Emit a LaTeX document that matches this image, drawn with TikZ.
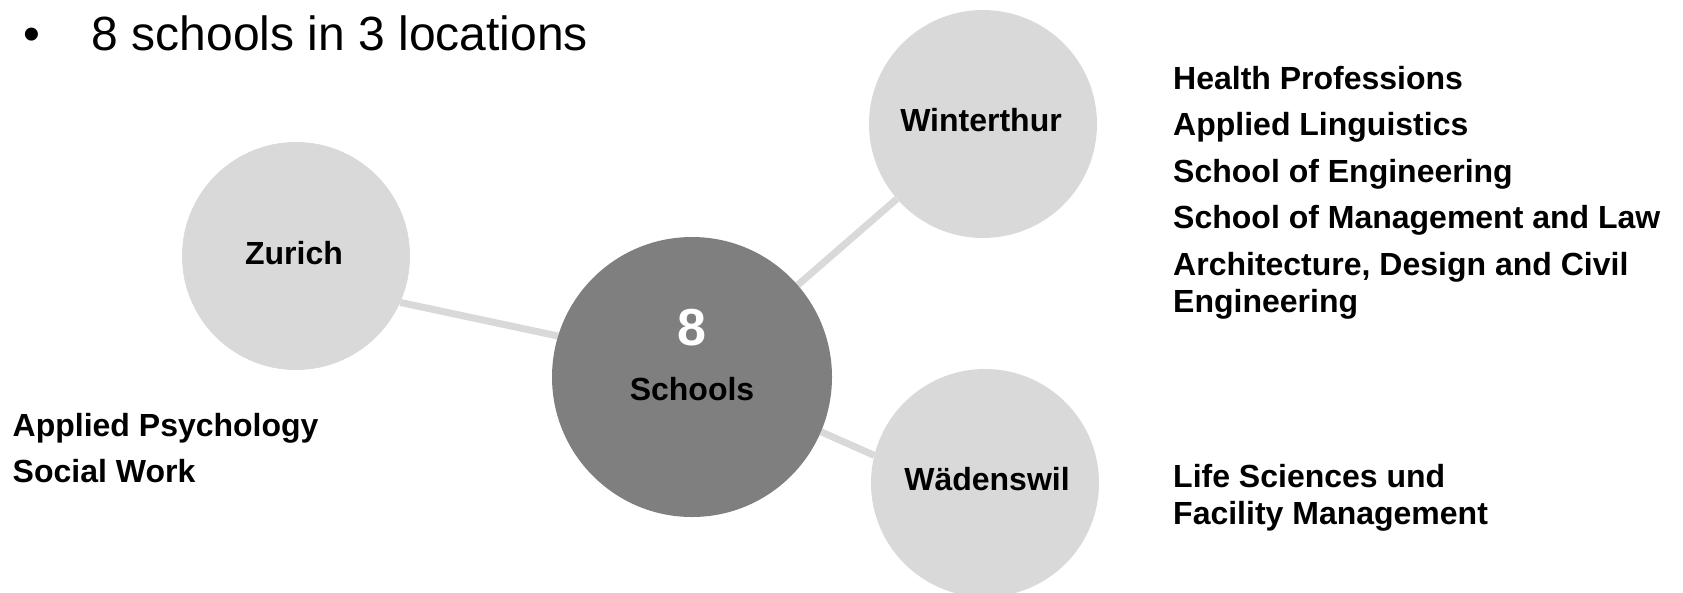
\documentclass[tikz,border=0pt]{standalone}
\usepackage{fontspec}
\setmainfont{Liberation Sans}
\usetikzlibrary{backgrounds,calc}
\definecolor{sitegray}{HTML}{D9D9D9}
\definecolor{hubgray}{HTML}{7F7F7F}

\begin{document}
\begin{tikzpicture}[x=1pt,y=-1pt]
	% `site' is used for the three locations, `hub' for the centre.
	% `item' is used for the lists of schools next to each location.
	\tikzstyle{site} = [circle,fill=sitegray,minimum size=228pt,inner sep=0pt]
	\tikzstyle{hub} = [circle,fill=hubgray,minimum size=280pt,inner sep=0pt]
	\tikzstyle{link} = [draw=sitegray,line width=7pt]
	\tikzstyle{place} = [font=\fontsize{32}{37}\selectfont\bfseries,inner sep=0pt,anchor=base]
	\tikzstyle{item} = [font=\fontsize{32}{37}\selectfont\bfseries,inner sep=0pt,anchor=base west]
	\useasboundingbox (0,0) rectangle (1683,592);
	%
	% Title line.
	\node[anchor=base,inner sep=0pt,font=\fontsize{48}{57}\selectfont] (dot) at (32,50) {•};
	\node[anchor=base west,inner sep=0pt,font=\fontsize{48}{57}\selectfont] (title) at (91.5,50) {8 schools in 3 locations};
	% Circles.
	\node[hub] (hub) at (692,377) {};
	\node[site] (zurich) at (296,256) {};
	\node[site] (winterthur) at (983,124) {};
	\node[site] (waedenswil) at (985,483) {};
	\begin{pgfonlayer}{background}
		% Draw lines.
		\draw[link] (hub.163) -- (zurich.-24);
		\draw[link] (hub) -- (winterthur);
		\draw[link] (hub.-23) -- (waedenswil.166);
	\end{pgfonlayer}
	% Names inside the circles.
	\node[place,text=white,font=\fontsize{52}{60}\selectfont\bfseries] (eight) at (692,345) {8};
	\node[place] (schools) at (692,400) {Schools};
	\node[place] (zurichname) at (294,264) {Zurich};
	\node[place] (winterthurname) at (981,131) {Winterthur};
	\node[place] (waedenswilname) at (987,490) {Wädenswil};
	% Zurich schools.
	\node[item] (z1) at (12.5,436) {Applied Psychology};
	\node[item] (z2) at (12.5,482) {Social Work};
	% Winterthur schools.
	\node[item] (w1) at (1173,89) {Health Professions};
	\node[item] (w2) at (1173,135.5) {Applied Linguistics};
	\node[item] (w3) at (1173,182) {School of Engineering};
	\node[item] (w4) at (1173,228.5) {School of Management and Law};
	\node[item] (w5) at (1173,275) {Architecture, Design and Civil};
	\node[item] (w6) at (1173,312) {Engineering};
	% Waedenswil schools.
	\node[item] (d1) at (1173,487) {Life Sciences und};
	\node[item] (d2) at (1173,524) {Facility Management};
%
\end{tikzpicture}
\end{document}
